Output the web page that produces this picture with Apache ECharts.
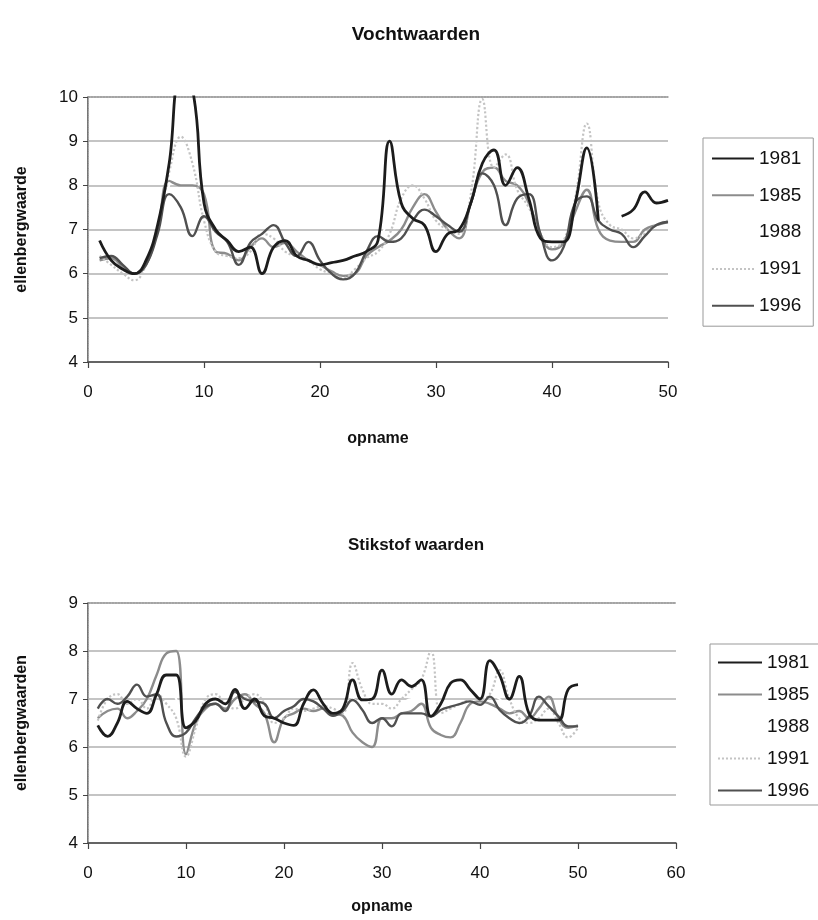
<!DOCTYPE html>
<html>
<head>
<meta charset="utf-8">
<script src="https://cdn.jsdelivr.net/npm/echarts@6/dist/echarts.min.js"></script>
<style>
html,body{margin:0;padding:0;background:#fff;}
#chart{width:818px;height:920px;}
</style>
</head>
<body>
<div id="chart"></div>
<script>
// ---- data ----
var opname = [1,2,3,4,5,6,7,8,9,10,11,12,13,14,15,16,17,18,19,20,21,22,23,24,25,26,27,28,29,30,31,32,33,34,35,36,37,38,39,40,41,42,43,44,45,46,47,48,49,50];
var years = ['1981','1985','1988','1991','1996'];

// Vochtwaarden
var vocht1981 = [6.75,6.3,6.1,6.0,6.3,7.1,8.5,10.4,10.2,7.6,7.0,6.75,6.5,6.6,6.0,6.6,6.75,6.4,6.3,6.2,6.25,6.3,6.4,6.5,6.75,9.0,7.6,7.25,7.1,6.5,6.9,7.0,7.6,8.5,8.8,8.0,8.4,7.7,6.8,6.72,6.72,7.6,8.85,7.2,null,7.3,7.45,7.85,7.6,7.66];
var vocht1985 = [6.3,6.35,6.15,6.0,6.2,7.0,8.1,8.0,8.0,7.8,6.5,6.45,6.3,6.6,6.8,6.6,6.7,6.5,6.3,6.2,6.05,5.95,6.0,6.4,6.6,6.75,7.0,7.5,7.8,7.4,7.0,6.8,7.6,8.3,8.4,8.1,8.0,7.6,6.9,6.55,6.7,7.4,7.9,7.0,6.75,6.72,6.72,7.0,7.1,7.17];
var vocht1988 = [6.4,6.3,6.1,6.0,6.2,7.0,8.0,8.6,8.4,7.4,6.8,6.6,6.4,6.6,6.7,6.8,6.6,6.4,6.4,6.2,6.1,6.0,6.1,6.4,6.7,7.2,7.3,7.4,7.5,7.1,7.0,6.9,7.6,8.6,8.5,8.2,8.0,7.6,6.9,6.6,6.7,7.5,8.4,7.3,7.0,6.9,6.8,7.1,7.2,7.3];
var vocht1991 = [6.4,6.2,6.0,5.85,6.2,7.0,8.3,9.1,8.5,7.2,6.5,6.4,6.35,6.5,6.9,6.8,6.5,6.4,6.3,6.1,6.0,5.9,6.1,6.35,6.5,6.9,7.7,8.0,7.7,7.2,7.0,6.9,7.8,9.95,8.4,8.7,7.9,7.5,6.9,6.6,6.75,7.7,9.4,7.6,7.1,7.0,6.8,6.9,7.1,7.2];
var vocht1996 = [6.35,6.4,6.2,6.0,6.2,6.9,7.8,7.5,6.85,7.3,6.95,6.72,6.2,6.7,6.9,7.1,6.7,6.4,6.72,6.3,6.0,5.87,6.0,6.5,6.85,6.72,6.8,7.2,7.45,7.3,7.1,6.95,7.6,8.27,8.0,7.1,7.7,7.8,6.9,6.3,6.6,7.6,7.75,7.2,7.0,6.9,6.6,6.85,7.1,7.17];

// Stikstof waarden
var stik1981 = [6.45,6.22,6.5,6.95,6.8,6.7,7.1,7.5,7.5,6.4,6.55,6.9,7.0,6.9,7.2,6.8,7.0,6.65,6.6,6.5,6.45,6.9,7.19,6.9,6.7,6.8,7.4,6.98,7.0,7.6,7.1,7.4,7.26,7.4,6.64,6.9,7.33,7.4,7.2,7.0,7.8,7.5,7.0,7.47,6.7,6.56,6.56,6.56,7.2,7.3];
var stik1985 = [6.6,6.75,6.8,6.6,6.75,7.0,7.5,7.95,8.0,5.85,6.5,6.8,6.9,6.8,7.0,7.1,6.9,6.7,6.1,6.6,6.7,6.8,6.75,6.8,6.7,6.65,6.3,6.1,6.0,6.6,6.6,6.7,6.75,6.9,6.4,6.25,6.2,6.5,6.9,6.95,6.9,6.8,6.7,6.75,6.6,6.8,7.05,6.6,6.4,6.45];
var stik1988 = [6.6,6.8,6.9,6.8,6.9,6.9,7.1,7.2,7.0,6.2,6.5,6.8,6.9,6.8,7.0,6.9,6.9,6.8,6.5,6.6,6.7,6.8,6.9,6.8,6.7,6.7,7.0,6.8,6.7,6.9,6.8,6.9,7.0,7.0,6.9,6.6,6.8,6.9,6.9,6.9,7.1,7.0,6.8,6.8,6.6,6.7,6.8,6.6,6.5,6.6];
var stik1991 = [6.55,7.0,7.1,6.9,7.0,6.8,7.1,6.9,6.6,5.8,6.4,7.0,7.1,6.9,6.8,7.0,7.1,6.9,6.5,6.6,6.8,6.75,6.8,6.85,6.8,6.7,7.75,7.2,6.9,6.9,6.8,7.0,7.2,7.4,8.0,6.7,6.8,6.9,7.0,7.0,7.1,7.6,7.0,6.6,6.5,6.6,6.8,6.5,6.2,6.4];
var stik1996 = [6.8,7.0,6.9,7.05,7.3,7.05,7.1,6.5,6.22,6.3,6.6,6.84,6.9,6.75,7.15,7.0,6.95,6.9,6.6,6.75,6.85,7.0,6.95,6.8,6.65,6.75,6.98,6.77,6.5,6.6,6.43,6.7,6.7,6.7,6.64,6.77,6.84,6.9,6.95,6.88,7.05,6.77,6.6,6.5,6.64,7.05,6.85,6.64,6.43,6.43];

// ---- build ----
function pairs(arr){ return opname.map(function(x,i){ return [x, arr[i]]; }); }
var FONT = '"Liberation Sans", Arial, sans-serif';
var styles = {
  '1981': {color:'#1c1c1c', width:2.8, type:'solid', z:5},
  '1985': {color:'#8c8c8c', width:2.4, type:'solid', z:3},
  '1988': {color:'#ffffff', width:2, type:'solid', z:1},
  '1991': {color:'#c4c4c4', width:2.2, type:'dotted', z:4},
  '1996': {color:'#505050', width:2.4, type:'solid', z:4}
};
function mkSeries(name, arr, gi){
  var s = styles[name];
  return {
    name: name, type:'line', xAxisIndex: gi*2, yAxisIndex: gi*2,
    data: pairs(arr), smooth: 0.45, symbol:'none', showSymbol:false,
    connectNulls:false, clip:true, z: s.z,
    lineStyle:{color:s.color, width:s.width, type:s.type},
    itemStyle:{color:s.color},
    emphasis:{disabled:true}, animation:false
  };
}
var vocht = {'1981':vocht1981,'1985':vocht1985,'1988':vocht1988,'1991':vocht1991,'1996':vocht1996};
var stik = {'1981':stik1981,'1985':stik1985,'1988':stik1988,'1991':stik1991,'1996':stik1996};
var series = [];
years.forEach(function(y){ series.push(mkSeries(y, vocht[y], 0)); });
years.forEach(function(y){ series.push(mkSeries(y, stik[y], 1)); });

function mainX(gi, max, nameGap){
  return {
    gridIndex: gi, type:'value', min:0, max:max, interval:10, position:'bottom',
    name:'opname', nameLocation:'middle', nameGap:nameGap,
    nameTextStyle:{fontFamily:FONT, fontSize:16, fontWeight:'bold', color:'#111'},
    axisLine:{show:true, lineStyle:{color:'#444', width:1.5}},
    axisTick:{show:true, inside:false, length:6, lineStyle:{color:'#444', width:1.2}},
    axisLabel:{fontFamily:FONT, fontSize:17, color:'#111', margin:22},
    splitLine:{show:false}
  };
}
function topX(gi, max){
  return {
    gridIndex: gi, type:'value', min:0, max:max, position:'top',
    axisLine:{show:true, lineStyle:{color:'#999', width:1.5, type:'dotted'}},
    axisTick:{show:false}, axisLabel:{show:false}, splitLine:{show:false}
  };
}
function mainY(gi, min, max, name, nameGap){
  return {
    gridIndex: gi, type:'value', min:min, max:max, interval:1, position:'left',
    name:name, nameLocation:'middle', nameGap:nameGap, nameRotate:90,
    nameTextStyle:{fontFamily:FONT, fontSize:16, fontWeight:'bold', color:'#111'},
    axisLine:{show:true, lineStyle:{color:'#444', width:1.5}},
    axisTick:{show:true, inside:false, length:5, lineStyle:{color:'#444'}},
    axisLabel:{fontFamily:FONT, fontSize:17, color:'#111', margin:10},
    splitLine:{show:true, lineStyle:{color:'#b0b0b0', width:1.5}}
  };
}
function rightY(gi, min, max){
  return {
    gridIndex: gi, type:'value', min:min, max:max, position:'right',
    axisLine:{show:true, lineStyle:{color:'#aaa', width:1.2, type:'dotted'}},
    axisTick:{show:false}, axisLabel:{show:false}, splitLine:{show:false}
  };
}

var chart = echarts.init(document.getElementById('chart'), null, {renderer:'canvas'});
chart.setOption({
  backgroundColor:'#fff',
  animation:false,
  title:[
    {text:'Vochtwaarden', left:411, top:20, textAlign:'center',
     textStyle:{fontFamily:FONT, fontSize:19, fontWeight:'bold', color:'#111'}},
    {text:'Stikstof waarden', left:411, top:532, textAlign:'center',
     textStyle:{fontFamily:FONT, fontSize:17, fontWeight:'bold', color:'#111'}}
  ],
  grid:[
    {left:88, top:97, width:580, height:265},
    {left:88, top:603, width:588, height:240}
  ],
  xAxis:[ mainX(0,50,69), topX(0,50), mainX(1,60,56), topX(1,60) ],
  yAxis:[ mainY(0,4,10,'ellenbergwaarde',58), rightY(0,4,10), mainY(1,4,9,'ellenbergwaarden',58), rightY(1,4,9) ],
  legend:[
    {data:years, orient:'vertical', left:703, top:138, itemWidth:42, itemHeight:18, itemGap:17.8,
     padding:[11,12,11,8], borderColor:'#999', borderWidth:1, backgroundColor:'#fff',
     itemStyle:{opacity:0}, 
     textStyle:{fontFamily:FONT, fontSize:19, color:'#111'}, selectedMode:false},
    {data:years, orient:'vertical', left:710, top:644, itemWidth:44, itemHeight:18, itemGap:13,
     padding:[9,12,5,7], borderColor:'#999', borderWidth:1, backgroundColor:'#fff',
     itemStyle:{opacity:0},
     textStyle:{fontFamily:FONT, fontSize:19, color:'#111'}, selectedMode:false}
  ],
  series: series
});
</script>
</body>
</html>
